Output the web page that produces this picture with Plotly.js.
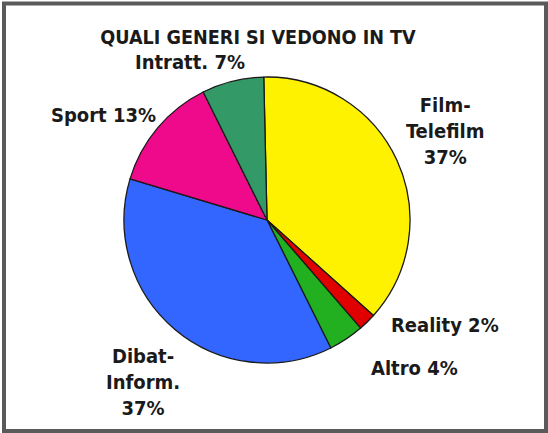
<!DOCTYPE html>
<html>
<head>
<meta charset="utf-8">
<script src="https://cdn.plot.ly/plotly-3.0.1.min.js"></script>
<style>
html,body{margin:0;padding:0;background:#fff;}
#chart{width:548px;height:433px;}
</style>
</head>
<body>
<div id="chart"></div>
<script>
// Data
var categories = ["Film-Telefilm", "Reality", "Altro", "Dibat-Inform.", "Sport", "Intratt."];
var labelLines = ["Film-<br>Telefilm<br>", "Reality ", "Altro ", "Dibat-<br>Inform.<br>", "Sport ", "Intratt. "];
var values = [37, 2, 4, 37, 13, 7];
var colors = ["#FFF200", "#E00000", "#22B020", "#3366FF", "#EE0A8A", "#339966"];
var chartTitle = "QUALI GENERI SI VEDONO IN TV";

// label anchor positions (pixels in 548x433 image)
var labelPos = [[445, 131], [445, 325], [414, 368], [143, 382], [103, 115], [190, 62]];

var W = 548, H = 433;
var font = "'DejaVu Sans Condensed', 'DejaVu Sans', sans-serif";

var annotations = categories.map(function (c, i) {
  return {
    text: "<b>" + labelLines[i] + values[i] + "%</b>",
    x: labelPos[i][0] / W,
    y: 1 - labelPos[i][1] / H,
    xref: "paper", yref: "paper",
    xanchor: "center", yanchor: "middle",
    showarrow: false,
    align: "center",
    font: {family: font, size: 20, color: "#1a1a1a"}
  };
});

var cx = 267, cy = 220, r = 143;
var trace = {
  type: "pie",
  labels: categories,
  values: values,
  sort: false,
  direction: "clockwise",
  rotation: -1.3,
  textinfo: "none",
  hoverinfo: "label+percent",
  marker: {colors: colors, line: {color: "#1a1a1a", width: 1.3}},
  domain: {x: [(cx - r) / W, (cx + r) / W], y: [(H - cy - r) / H, (H - cy + r) / H]},
  showlegend: false,
  automargin: false
};

var layout = {
  width: W, height: H,
  margin: {l: 0, r: 0, t: 0, b: 0},
  paper_bgcolor: "#fff",
  showlegend: false,
  title: {
    text: "<b>" + chartTitle + "</b>",
    x: 258 / W, xanchor: "center",
    y: 1 - 37 / H, yanchor: "middle",
    xref: "paper", yref: "paper",
    font: {family: font, size: 19.6, color: "#1a1a1a"}
  },
  annotations: annotations,
  shapes: [{
    type: "rect", xref: "paper", yref: "paper",
    x0: 4 / W, x1: 546 / W, y0: 1 - 3.5 / H, y1: 1 - 431 / H,
    line: {color: "#5a5a5a", width: 4}
  }]
};

Plotly.newPlot("chart", [trace], layout, {staticPlot: true, displayModeBar: false});
</script>
</body>
</html>
